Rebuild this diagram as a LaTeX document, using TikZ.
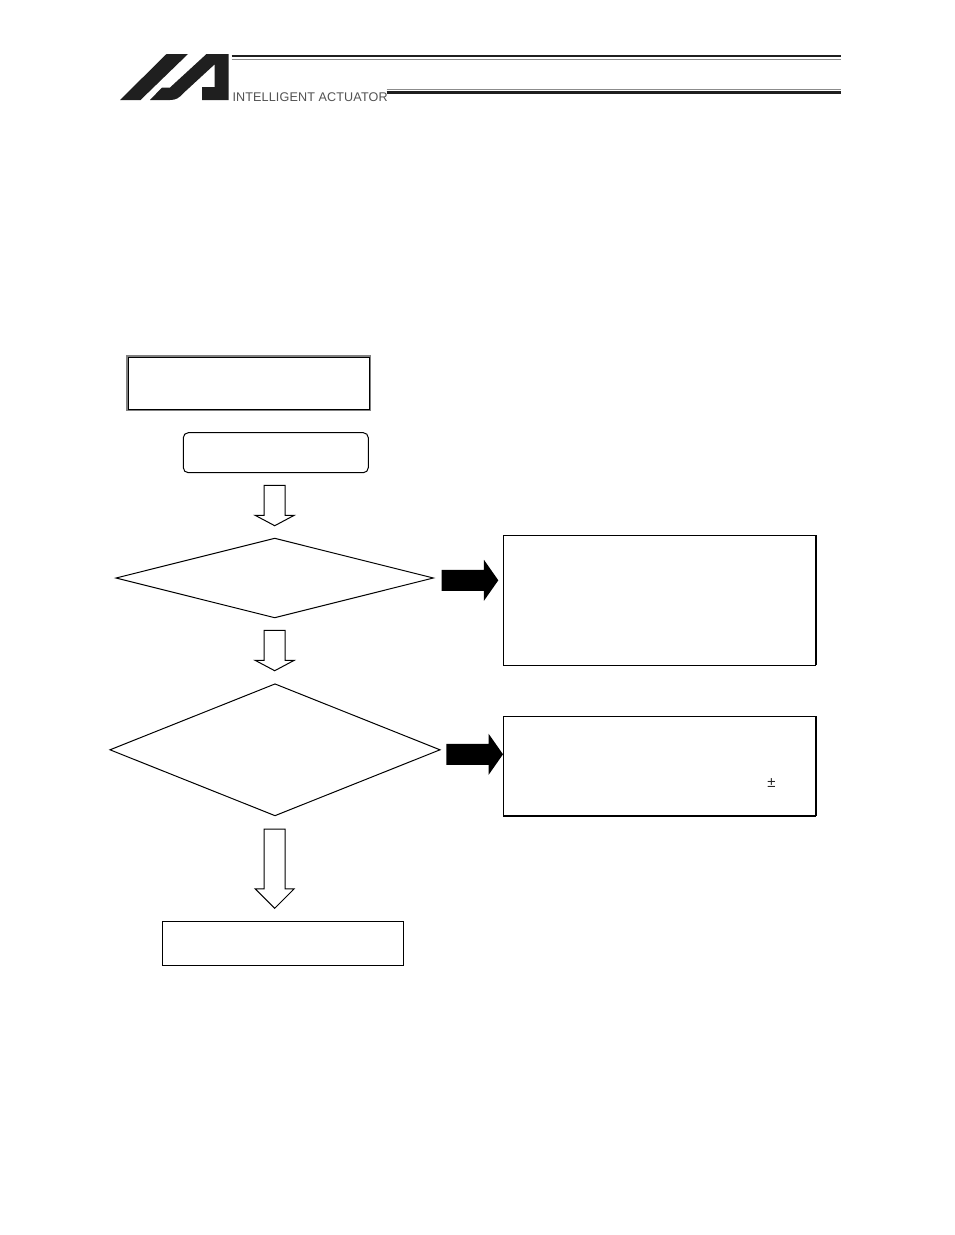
\documentclass[tikz,border=0pt]{standalone}
\usepackage{fontspec}
\setmainfont{Liberation Sans}
\newfontfamily\brandfont[LetterSpace=1]{Liberation Sans}
\usetikzlibrary{shapes.geometric,shapes.arrows}
\tikzset{
  x=1pt,y=-1pt,
  every node/.style={inner sep=0pt,outer sep=0pt},
  boxplain/.style={draw=black,line width=1pt,fill=white,rectangle},
  decision/.style={draw=black,line width=1pt,fill=white,diamond},
  blockbase/.style={shape=single arrow,single arrow head indent=0pt,rotate=-90,anchor=tip,
     line width=1pt,text height=20pt,text depth=0pt},
  whitearrow/.style={blockbase,draw=black,fill=white,single arrow head extend=9pt},
  blackarrow/.style={shape=single arrow,single arrow head indent=0pt,anchor=tip,draw=none,fill=black,
     text height=20.7pt,text depth=0pt,single arrow head extend=10pt,single arrow tip angle=110,minimum height=56.6pt},
  rulethick/.style={line width=2.4pt,color=black!88},
  rulethin/.style={line width=1pt,color=black!45},
}
\begin{document}
\begin{tikzpicture}
\useasboundingbox (0,0) rectangle (954,1235);
% logo
\fill[black!88] (120,100) -- (166.5,54) -- (188,54) -- (140.5,100) -- cycle;
\fill[black!88] (150,100) -- (162,87.5) -- (170,87.5) -- (206.5,54) -- (228.5,54) -- (228.5,100) -- (202,100) -- (202,87)
   -- (214.5,87) -- (214.5,64.5) -- (183,93.5) .. controls (179,98) and (176,100) .. (170,100) -- cycle;
\node[anchor=base west,text=black!68,font=\brandfont\fontsize{12.6}{12.6}\selectfont] (brand) at (232.5,101) {INTELLIGENT ACTUATOR};
% header rules
\coordinate (ra) at (231.5,56); \coordinate (rb) at (841,56);
\coordinate (rc) at (231.5,59.5); \coordinate (rd) at (841,59.5);
\coordinate (re) at (386.5,89.5); \coordinate (rf) at (841,89.5);
\coordinate (rg) at (386.5,92.5); \coordinate (rh) at (841,92.5);
\draw[rulethick] (ra) -- (rb);
\draw[rulethin] (rc) -- (rd);
\draw[rulethin] (re) -- (rf);
\draw[rulethick] (rg) -- (rh);
% flow boxes
\node[draw=black!50,line width=2.6pt,rectangle,minimum width=243pt,minimum height=54pt] (title) at (248.5,383) {};
\node[draw=black,line width=.9pt,rectangle,minimum width=241pt,minimum height=52pt] (titlein) at (248.6,383) {};
\node[boxplain,rounded corners=5pt,minimum width=185pt,minimum height=40pt] (start) at (275.8,452.7) {};
\node[decision,minimum width=317.3pt,minimum height=79.4pt] (dec1) at (274.7,578) {};
\node[decision,minimum width=330pt,minimum height=131.7pt] (dec2) at (275,749.8) {};
\node[boxplain,minimum width=240.6pt,minimum height=43.7pt] (finish) at (283,943.2) {};
\node[boxplain,minimum width=312.7pt,minimum height=130pt] (res1) at (659.6,600.3) {};
\node[boxplain,minimum width=312.7pt,minimum height=99.7pt] (res2) at (659.6,766.2) {};
\draw[line width=2pt] (res1.north east) -- (res1.south east);
\draw[line width=2pt] (res2.north east) -- (res2.south east);
\draw[line width=2pt] (res2.south west) -- (res2.south east);
% white block arrows
\node[whitearrow,single arrow tip angle=124,minimum height=40.4pt] (a1) at (274.7,525.7) {};
\node[whitearrow,single arrow tip angle=124,minimum height=40.4pt] (a2) at (274.7,670.7) {};
\node[whitearrow,single arrow tip angle=90,minimum height=79.3pt] (a3) at (274.7,908.3) {};
% black block arrows
\node[blackarrow] (b1) at (498.3,580.3) {};
\node[blackarrow] (b2) at (503,754.3) {};
% plus-minus sign
\node[font=\fontsize{15}{15}\selectfont,text=black!85] (pm) at (771.5,783.3) {±};
\end{tikzpicture}
\end{document}
